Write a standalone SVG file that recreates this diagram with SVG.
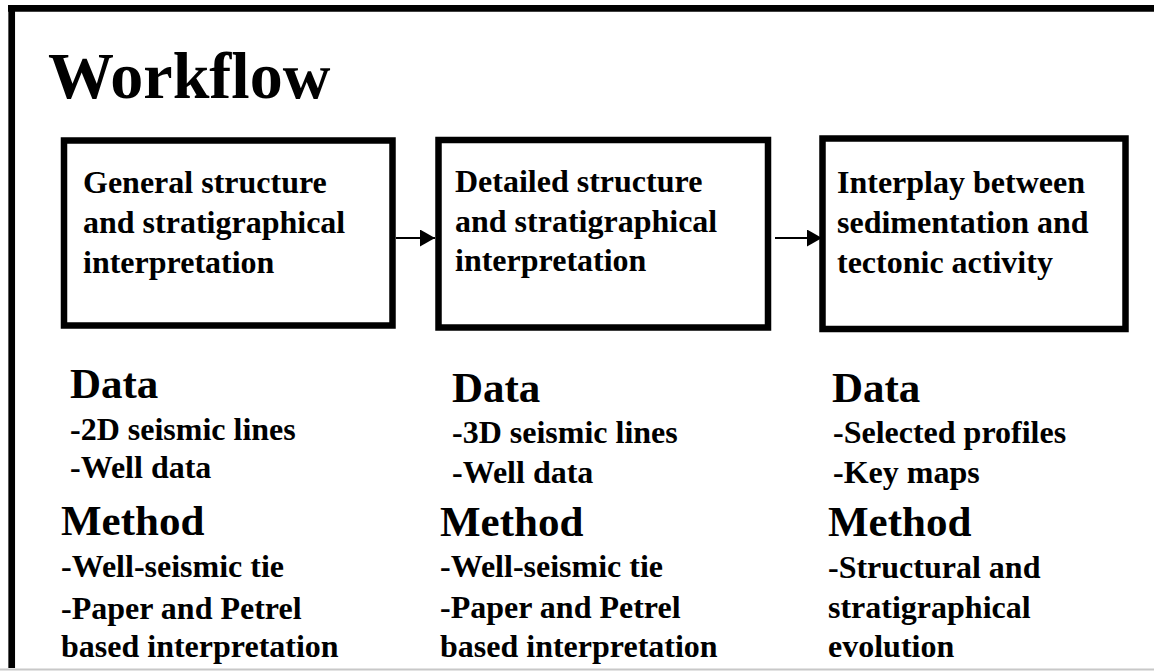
<svg xmlns="http://www.w3.org/2000/svg" width="1154" height="672" viewBox="0 0 1154 672">
  <style>
    text { font-weight: bold; fill: #000; }
    .title { font-size: 66px; }
    .box { fill: #fff; stroke: #000; stroke-width: 6.5; }
    .btxt { font-size: 32px; }
    .head { font-size: 43px; }
    .item { font-size: 32px; }
    .conn { stroke: #000; stroke-width: 2; fill: none; }
    .frame { stroke: #000; stroke-width: 6.7; fill: none; }
  </style>
  <defs>
    <marker id="arrow" markerUnits="userSpaceOnUse" markerWidth="16" markerHeight="17" refX="15" refY="8.5" orient="auto">
      <path d="M0,0 L15,8.5 L0,17 Z" fill="#000"/>
    </marker>
  </defs>
  <rect x="0" y="0" width="1154" height="672" fill="#fff"/>
  <g id="frame">
    <line class="frame" x1="8" y1="8.3" x2="1154" y2="8.3"/>
    <line class="frame" x1="11.7" y1="5" x2="11.7" y2="668"/>
    <line x1="0" y1="669.5" x2="1154" y2="669.5" stroke="#c8c8c8" stroke-width="2"/>
  </g>
  <g font-family="Liberation Serif, DejaVu Serif, serif">
  <g id="title">
    <text class="title" x="48" y="98">Workflow</text>
  </g>
  <g id="connectors">
    <line class="conn" x1="396" y1="238" x2="435" y2="238" marker-end="url(#arrow)"/>
    <line class="conn" x1="775" y1="238" x2="822" y2="238" marker-end="url(#arrow)"/>
  </g>
  <g id="node1">
    <rect class="box" x="64" y="140.5" width="328.5" height="185"/>
    <text class="btxt" x="83" y="193">General structure</text>
    <text class="btxt" x="83" y="233">and stratigraphical</text>
    <text class="btxt" x="83" y="273">interpretation</text>
  </g>
  <g id="node2">
    <rect class="box" x="438.5" y="140" width="329.5" height="187.5"/>
    <text class="btxt" x="455" y="192">Detailed structure</text>
    <text class="btxt" x="455" y="231.5">and stratigraphical</text>
    <text class="btxt" x="455" y="271">interpretation</text>
  </g>
  <g id="node3">
    <rect class="box" x="822.5" y="138.5" width="303" height="190.5"/>
    <text class="btxt" x="837" y="193">Interplay between</text>
    <text class="btxt" x="837" y="233">sedimentation and</text>
    <text class="btxt" x="837" y="273">tectonic activity</text>
  </g>
  <g id="details1">
    <text class="head" x="70" y="398">Data</text>
    <text class="item" x="70" y="440">-2D seismic lines</text>
    <text class="item" x="70" y="478">-Well data</text>
    <text class="head" x="61" y="535">Method</text>
    <text class="item" x="61" y="577">-Well-seismic tie</text>
    <text class="item" x="61" y="619">-Paper and Petrel</text>
    <text class="item" x="61" y="657">based interpretation</text>
  </g>
  <g id="details2">
    <text class="head" x="452" y="402">Data</text>
    <text class="item" x="452" y="443">-3D seismic lines</text>
    <text class="item" x="452" y="483">-Well data</text>
    <text class="head" x="440" y="536">Method</text>
    <text class="item" x="440" y="577">-Well-seismic tie</text>
    <text class="item" x="440" y="618">-Paper and Petrel</text>
    <text class="item" x="440" y="657">based interpretation</text>
  </g>
  <g id="details3">
    <text class="head" x="832" y="402">Data</text>
    <text class="item" x="833" y="443">-Selected profiles</text>
    <text class="item" x="833" y="483">-Key maps</text>
    <text class="head" x="828" y="536">Method</text>
    <text class="item" x="828" y="578">-Structural and</text>
    <text class="item" x="828" y="618">stratigraphical</text>
    <text class="item" x="828" y="657">evolution</text>
  </g>
  </g>
</svg>
